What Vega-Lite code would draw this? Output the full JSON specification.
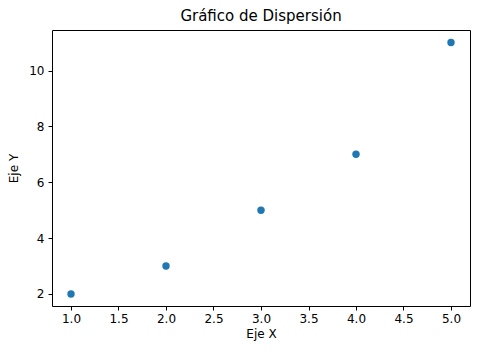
{
  "$schema": "https://vega.github.io/schema/vega-lite/v6.json",
  "width": 418,
  "height": 276,
  "autosize": {"type": "none"},
  "padding": {"left": 52, "top": 30, "right": 9, "bottom": 49},
  "background": "white",
  "title": {"text": "Gráfico de Dispersión", "font": "DejaVu Sans", "fontSize": 15, "fontWeight": "normal", "color": "black", "offset": 6},
  "data": {"values": [
    {"x": 1, "y": 2},
    {"x": 2, "y": 3},
    {"x": 3, "y": 5},
    {"x": 4, "y": 7},
    {"x": 5, "y": 11}
  ]},
  "mark": {"type": "circle", "size": 55, "color": "#1f77b4", "opacity": 1},
  "encoding": {
    "x": {"field": "x", "type": "quantitative", "title": "Eje X",
      "scale": {"domain": [0.8, 5.2], "nice": false, "zero": false},
      "axis": {"values": [1, 1.5, 2, 2.5, 3, 3.5, 4, 4.5, 5], "format": ".1f", "grid": false,
        "domain": false, "tickColor": "black", "tickSize": 4, "labelFont": "DejaVu Sans", "labelFontSize": 12, "labelColor": "black", "labelPadding": 3,
        "titleFont": "DejaVu Sans", "titleFontSize": 12, "titleFontWeight": "normal", "titleColor": "black", "titlePadding": 4}},
    "y": {"field": "y", "type": "quantitative", "title": "Eje Y",
      "scale": {"domain": [1.57, 11.45], "nice": false, "zero": false},
      "axis": {"values": [2, 4, 6, 8, 10], "format": "d", "grid": false,
        "domain": false, "tickColor": "black", "tickSize": 4, "labelFont": "DejaVu Sans", "labelFontSize": 12, "labelColor": "black", "labelPadding": 4,
        "titleFont": "DejaVu Sans", "titleFontSize": 12, "titleFontWeight": "normal", "titleColor": "black", "titlePadding": 8}}
  },
  "config": {"view": {"stroke": "black", "strokeWidth": 1}}
}
